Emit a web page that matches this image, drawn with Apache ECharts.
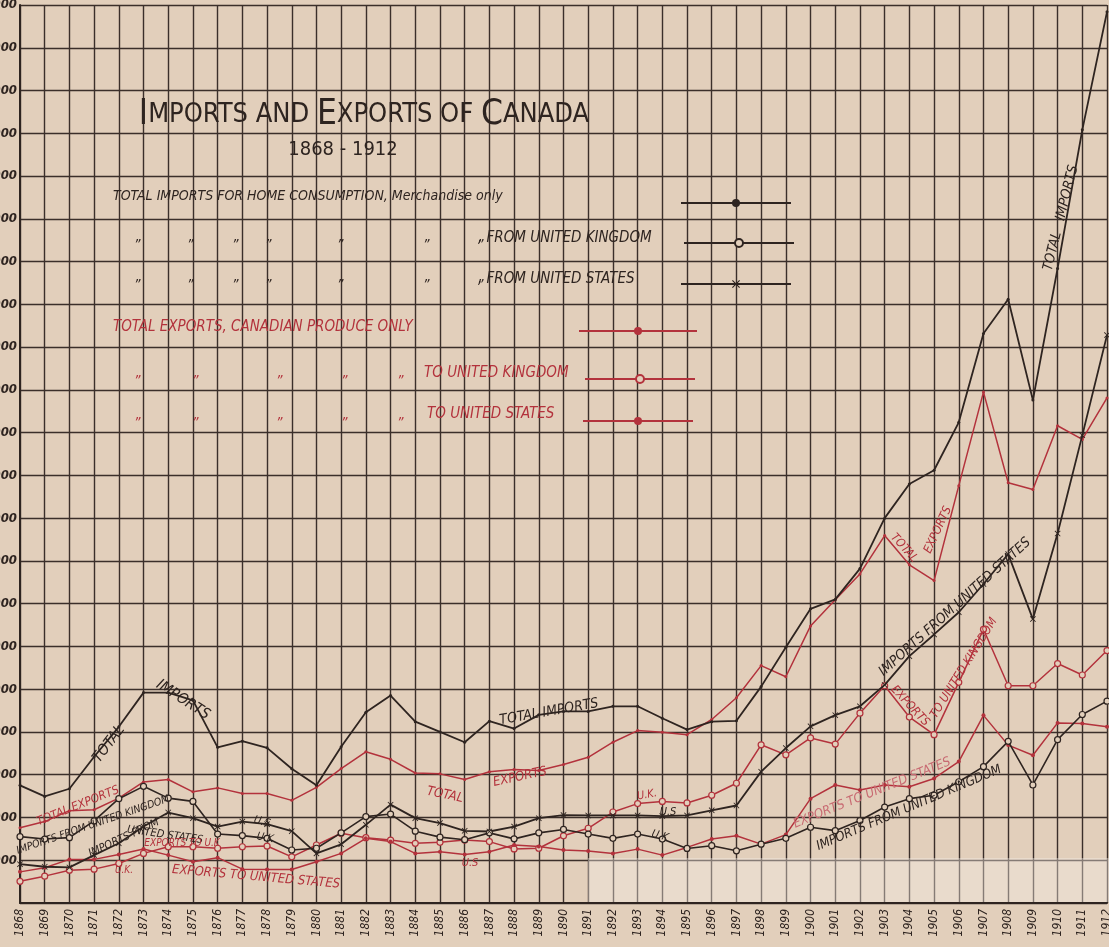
<!DOCTYPE html>
<html>
<head>
<meta charset="utf-8">
<script src="https://cdn.jsdelivr.net/npm/echarts@6.0.0/dist/echarts.min.js"></script>
<style>
  html, body { margin: 0; padding: 0; background: #e2cfbb; }
  #chart { width: 1109px; height: 947px; }
</style>
</head>
<body>
<div id="chart"></div>
<script>
// years on the x axis
const years = ['1868','1869','1870','1871','1872','1873','1874','1875','1876','1877',
  '1878','1879','1880','1881','1882','1883','1884','1885','1886','1887',
  '1888','1889','1890','1891','1892','1893','1894','1895','1896','1897',
  '1898','1899','1900','1901','1902','1903','1904','1905','1906','1907',
  '1908','1909','1910','1911','1912']

// values in millions of dollars
const totalImports = [68.8, 62.3, 66.8, 85.5, 103, 123, 123, 118.5, 91, 94.6,
  90.7, 78.5, 68.8, 91.3, 111.5, 121.3, 106, 100, 94, 106.3,
  102, 110, 112, 112, 115, 115, 108, 101.4, 106, 106.5,
  126.5, 149.5, 172, 177.5, 195.5, 225, 245, 253, 281, 333,
  353, 294, 371, 452, 521]
const importsUK = [38.8, 37.4, 38.2, 48, 61, 68.2, 61.3, 59.4, 40.3, 39.4,
  37.8, 31, 32, 41, 50.5, 52, 42, 38.5, 37, 41,
  37.5, 41, 43, 40.3, 37.8, 40.3, 37.4, 31.9, 33.5, 30.5,
  34.4, 37.8, 44.3, 42.3, 48.2, 56.1, 61, 63, 70.9, 79.7,
  94.5, 69, 95.5, 110.2, 118]
const importsUS = [22.7, 21.2, 20.8, 28, 34.9, 44.7, 52.9, 49.6, 44.7, 47.6,
  46.1, 42, 29, 34.3, 45.7, 57.5, 49.6, 46.7, 42.2, 41.8,
  44.7, 49.6, 51.4, 51.2, 51.2, 51.2, 50.8, 51.2, 54.2, 57,
  76.8, 90.6, 103.3, 109.8, 115, 127.5, 144.3, 157, 170, 186.5,
  204, 166, 216, 273.4, 332]
const totalExports = [44, 47.6, 54, 54.5, 61.3, 70.8, 72.2, 65, 67.3, 64,
  64, 60, 67.6, 78.6, 88.4, 84, 76, 75.5, 72.2, 76.7,
  78, 77.5, 81, 85.2, 94, 100.8, 99.8, 98.4, 107.3, 120,
  138.8, 132.3, 162, 177.3, 192.4, 214.8, 197.7, 188.5, 244, 298.7,
  245.7, 241.8, 279, 271, 295.3]
const exportsUK = [12.7, 15.7, 19.2, 19.8, 23.1, 29, 32.9, 32.9, 32, 32.9,
  33.3, 27, 33.9, 40.8, 38.2, 36.8, 34.9, 35.5, 36.8, 35.9,
  31.6, 32, 39.3, 43.7, 53.2, 58.1, 59.4, 58.5, 63, 70,
  92.5, 86.6, 96.5, 92.9, 111, 127, 108.7, 98.4, 129, 160,
  127, 127, 140, 133.3, 147.6]
const exportsUS = [18.2, 20.6, 25.5, 25.5, 28.4, 31.6, 28, 24.1, 26.5, 19.8,
  19.6, 19.6, 24.1, 29, 37.8, 35.9, 29, 30, 28.4, 30,
  33.9, 33, 31, 30.4, 28.9, 31.5, 28, 32.5, 37.4, 39.3,
  34.4, 40, 61, 69, 66, 69, 68, 72.8, 82.7, 109.7,
  92.3, 86.4, 105.3, 105, 103]

const PAPER = '#e2cfbb'
const INK = '#2e2420'
const RED = '#b3323c'
const FONT = '"DejaVu Sans Condensed", "DejaVu Sans", sans-serif'
const CROSS = 'path://M0,1L1,0L5,4L9,0L10,1L6,5L10,9L9,10L5,6L1,10L0,9L4,5Z'

function money(v) {
  if (v === 0) return ''
  return String(v * 1000000).replace(/\B(?=(\d{3})+(?!\d))/g, ',')
}

// labels written along the lines: text, x, y, angle, colour, size
const lineNotes = [
  ['TOTAL', 109, 744, 53, INK, 15],
  ['IMPORTS', 183, 700, -33, INK, 15],
  ['TOTAL IMPORTS', 549, 712, 10, INK, 14],
  ['TOTAL', 445, 795, -12, RED, 13],
  ['EXPORTS', 520, 777, 12, RED, 13],
  ['TOTAL EXPORTS', 78, 806, 22, RED, 12],
  ['IMPORTS FROM UNITED KINGDOM', 93, 825, 19, INK, 10.5],
  ['IMPORTS FROM', 124, 838, 25, INK, 11],
  ['UNITED STATES', 165, 835, -8, INK, 11],
  ['EXPORTS TO U.K', 182, 843, 0, RED, 10],
  ['EXPORTS TO UNITED STATES', 256, 877, -5, RED, 13],
  ['U.K.', 124, 870, 0, RED, 10],
  ['U.S', 262, 822, -15, INK, 11],
  ['U.K', 265, 838, -10, INK, 11],
  ['U.S', 470, 863, 0, RED, 11],
  ['U.K.', 647, 795, 10, RED, 11],
  ['U.S', 668, 812, 0, INK, 11],
  ['U.K', 660, 836, -15, INK, 11],
  ['TOTAL', 904, 548, -48, RED, 12],
  ['EXPORTS', 938, 530, 65, RED, 12],
  ['IMPORTS FROM UNITED STATES', 955, 607, 42, INK, 14],
  ['EXPORTS', 910, 706, -47, RED, 12],
  ['TO UNITED KINGDOM', 964, 668, 58, RED, 12],
  ['EXPORTS TO UNITED STATES', 872, 793, 22, '#c86a72', 13],
  ['IMPORTS FROM UNITED KINGDOM', 909, 808, 23, INK, 13],
  ['TOTAL   IMPORTS', 1061, 218, 76, INK, 14]
]

const dittoX = [134, 187, 232, 265, 337, 423, 477]
const dittoXRed = [134, 192, 276, 341, 397]

const chart = echarts.init(document.getElementById('chart'))

const graphics = []
lineNotes.forEach(([t, x, y, deg, c, s]) => {
  graphics.push({
    type: 'text', x, y, rotation: deg * Math.PI / 180, z: 50,
    style: { text: t, fill: c, font: `italic ${s}px ${FONT}`, align: 'center', verticalAlign: 'middle' }
  })
})
// legend texts
const legendText = (t, x, y, c, s) => ({
  type: 'text', x, y, z: 50,
  style: { text: t, fill: c, font: `italic ${s}px ${FONT}`, align: 'left', verticalAlign: 'middle' }
})
graphics.push(legendText('TOTAL IMPORTS FOR HOME CONSUMPTION, Merchandise only', 113, 196, INK, 14))
graphics.push(legendText(', FROM UNITED KINGDOM', 478, 238, INK, 15))
graphics.push(legendText(', FROM UNITED STATES', 478, 279, INK, 15))
graphics.push(legendText('TOTAL EXPORTS, CANADIAN PRODUCE ONLY', 113, 327, RED, 15))
graphics.push(legendText('TO UNITED KINGDOM', 424, 373, RED, 15))
graphics.push(legendText('TO UNITED STATES', 427, 414, RED, 15))
dittoX.forEach(x => {
  graphics.push(legendText('\u201d', x, 245, INK, 14))
  graphics.push(legendText('\u201d', x, 285, INK, 14))
})
dittoXRed.forEach(x => {
  graphics.push(legendText('\u201d', x, 381, RED, 14))
  graphics.push(legendText('\u201d', x, 423, RED, 14))
})
// title
graphics.push({
  type: 'text', x: 364, y: 115, z: 50,
  style: {
    text: '{b|I}{s|MPORTS AND }{b|E}{s|XPORTS OF }{b|C}{s|ANADA}',
    align: 'center', verticalAlign: 'middle',
    rich: {
      b: { font: `35px ${FONT}`, fill: INK, color: INK },
      s: { font: `27px ${FONT}`, fill: INK, color: INK }
    }
  }
})
graphics.push({
  type: 'text', x: 343, y: 150, z: 50,
  style: { text: '1868 - 1912', fill: INK, font: `20px ${FONT}`, align: 'center', verticalAlign: 'middle' }
})
// faded patch along the bottom of the sheet
graphics.push({
  type: 'rect', z: 60, shape: { x: 588, y: 858, width: 521, height: 44 },
  style: { fill: 'rgba(245,238,230,0.4)' }
})

const legendBox = (name, left, top, width) => ({
  data: [name], left, top, padding: 0, itemWidth: width, itemHeight: 10,
  formatter: () => '', selectedMode: false, textStyle: { fontSize: 1 }
})

chart.setOption({
  backgroundColor: PAPER,
  animation: false,
  grid: { left: 20, right: 2, top: 5, bottom: 44, containLabel: false, outerBoundsMode: 'none' },
  legend: [
    legendBox('Total imports', 680, 198, 110),
    legendBox('Imports from United Kingdom', 683, 238, 110),
    legendBox('Imports from United States', 680, 279, 110),
    legendBox('Total exports', 578, 326, 118),
    legendBox('Exports to United Kingdom', 584, 374, 110),
    legendBox('Exports to United States', 582, 416, 110)
  ],
  xAxis: {
    type: 'category', data: years, boundaryGap: false,
    axisLine: { lineStyle: { color: INK, width: 2 } },
    axisTick: { show: false },
    splitLine: { show: true, interval: 0, lineStyle: { color: '#3b2f2a', width: 1.4 } },
    axisLabel: { interval: 0, rotate: 90, margin: 6, color: INK, fontSize: 12, fontStyle: 'italic', fontFamily: FONT }
  },
  yAxis: {
    type: 'value', min: 0, max: 525, interval: 25,
    axisLine: { show: true, lineStyle: { color: INK, width: 2 } },
    axisTick: { show: false },
    splitLine: { lineStyle: { color: '#3b2f2a', width: 1.4 } },
    axisLabel: { formatter: money, margin: 3, color: INK, fontSize: 13, fontStyle: 'italic', fontWeight: 'bold', fontFamily: FONT }
  },
  graphic: graphics,
  series: [
    {
      name: 'Total exports', type: 'line', data: totalExports, z: 3,
      symbol: 'circle', symbolSize: 3,
      itemStyle: { color: RED }, lineStyle: { color: RED, width: 1.5 }
    },
    {
      name: 'Exports to United Kingdom', type: 'line', data: exportsUK, z: 3,
      symbol: 'circle', symbolSize: 6,
      itemStyle: { color: PAPER, borderColor: RED, borderWidth: 1.2 },
      lineStyle: { color: RED, width: 1.5 }
    },
    {
      name: 'Exports to United States', type: 'line', data: exportsUS, z: 3,
      symbol: 'circle', symbolSize: 4,
      itemStyle: { color: RED }, lineStyle: { color: RED, width: 1.5 }
    },
    {
      name: 'Total imports', type: 'line', data: totalImports, z: 4,
      symbol: 'circle', symbolSize: 3,
      itemStyle: { color: INK }, lineStyle: { color: INK, width: 1.8 }
    },
    {
      name: 'Imports from United Kingdom', type: 'line', data: importsUK, z: 4,
      symbol: 'circle', symbolSize: 6,
      itemStyle: { color: PAPER, borderColor: INK, borderWidth: 1.2 },
      lineStyle: { color: INK, width: 1.6 }
    },
    {
      name: 'Imports from United States', type: 'line', data: importsUS, z: 4,
      symbol: CROSS, symbolSize: 6,
      itemStyle: { color: INK }, lineStyle: { color: INK, width: 1.8 }
    }
  ]
})
</script>
</body>
</html>
